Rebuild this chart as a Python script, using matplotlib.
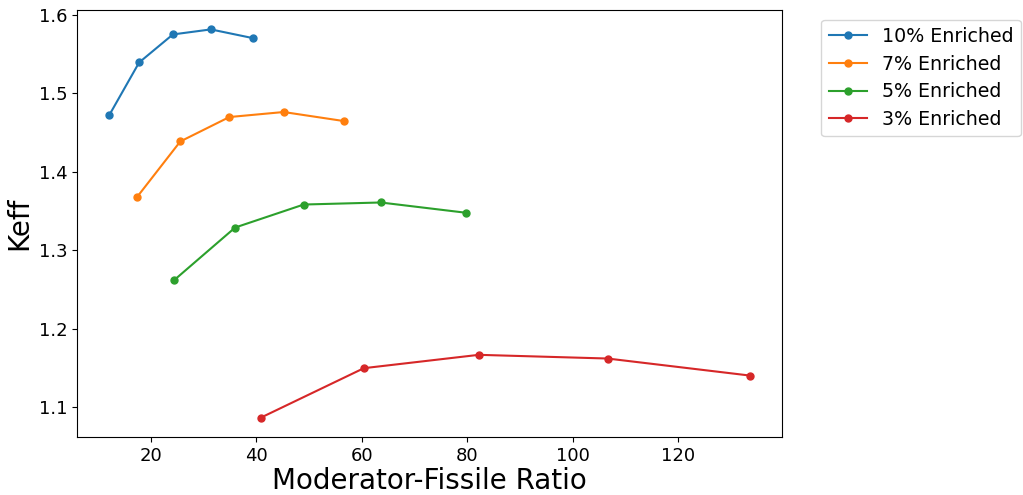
import numpy as np
import matplotlib
matplotlib.use('Agg')
import matplotlib.pyplot as plt

# moderator-fissile ratio and keff for each enrichment
ratio10 = [12.1, 17.8, 24.2, 31.4, 39.3]
keff10 = [1.4717, 1.5392, 1.5749, 1.5813, 1.5703]

ratio7 = [17.4, 25.6, 34.9, 45.2, 56.6]
keff7 = [1.3678, 1.4386, 1.4697, 1.4761, 1.4646]

ratio5 = [24.5, 36.0, 49.0, 63.6, 79.8]
keff5 = [1.2624, 1.3290, 1.3583, 1.3609, 1.3478]

ratio3 = [40.9, 60.4, 82.2, 106.6, 133.6]
keff3 = [1.0870, 1.1499, 1.1669, 1.1622, 1.1405]

labels = ['10% Enriched', '7% Enriched', '5% Enriched', '3% Enriched']

fig = plt.figure(figsize=(10.23, 4.95), dpi=100)
fig.subplots_adjust(left=0.0753, right=0.7644, top=0.9798, bottom=0.1172)
ax = fig.gca()

ms = 5
ax.plot(ratio10, keff10, marker='o', markersize=ms, label=labels[0])
ax.plot(ratio7, keff7, marker='o', markersize=ms, label=labels[1])
ax.plot(ratio5, keff5, marker='o', markersize=ms, label=labels[2])
ax.plot(ratio3, keff3, marker='o', markersize=ms, label=labels[3])

ax.tick_params(labelsize=13)
ax.set_xlabel('Moderator-Fissile Ratio', fontsize=20, labelpad=2)
ax.set_ylabel('Keff', fontsize=20)
ax.legend(bbox_to_anchor=(1.042, 1), loc='upper left', fontsize=13.7,
          labelspacing=0.45)

plt.savefig('out.png', dpi=100)
